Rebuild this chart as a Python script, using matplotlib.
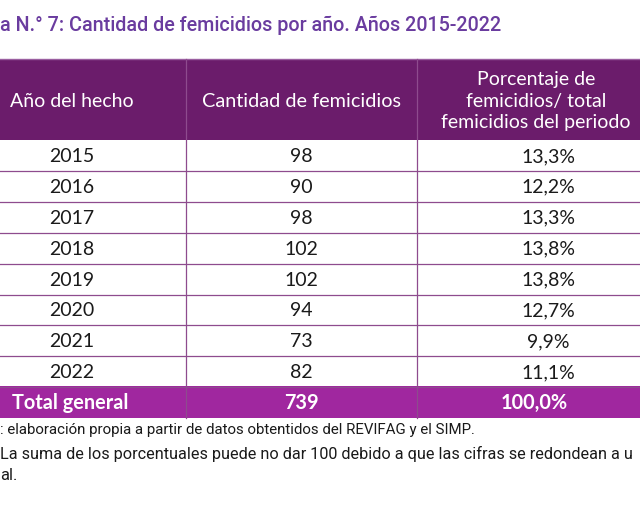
import matplotlib
matplotlib.use("Agg")
import matplotlib.pyplot as plt
from matplotlib.patches import Rectangle

years = ["2015", "2016", "2017", "2018", "2019", "2020", "2021", "2022"]
counts = [98, 90, 98, 102, 102, 94, 73, 82]
percents = [13.3, 12.2, 13.3, 13.8, 13.8, 12.7, 9.9, 11.1]
total_label = "Total general"
total_count = 739
total_percent = 100.0
headers = ["Año del hecho", "Cantidad de femicidios",
           "Porcentaje de\nfemicidios/ total\nfemicidios del periodo"]
title = "a N.° 7: Cantidad de femicidios por año. Años 2015-2022"
note1 = ": elaboración propia a partir de datos obtentidos del REVIFAG y el SIMP."
note2 = "La suma de los porcentuales puede no dar 100 debido a que las cifras se redondean a u"
note3 = "al."

def fmt_pct(v):
    return f"{v:.1f}%".replace(".", ",")

W, H = 640, 506
fig = plt.figure(figsize=(W / 100, H / 100), dpi=100)
ax = fig.add_axes([0, 0, 1, 1])
ax.set_xlim(0, W)
ax.set_ylim(H, 0)
ax.axis("off")

HEAD = "#6b1c6b"
TOT = "#a0279f"
LINE = "#8e4b8e"
TITLE_C = "#6a3c9f"
FONT = "Lato"

col_edges = [0, 186, 417, 640]
col_centers = [72, 301, 540]
head_top, head_bot = 60, 141
row_h = 30.9
tot_top, tot_bot = 387, 419

# title
ax.text(0, 25, title, fontsize=14.2, color=TITLE_C, family="Roboto",
        ha="left", va="center", fontweight="medium")

# header band
ax.add_patch(Rectangle((0, head_top), W, head_bot - head_top, color=HEAD, lw=0))
ax.plot([0, W], [head_top, head_top], color="#9a5fa0", lw=1)
for x in col_edges[1:3]:
    ax.plot([x, x], [head_top, tot_bot], color=LINE, lw=0.9, zorder=3)
ax.text(col_centers[0], 101, headers[0], color="white", fontsize=14,
        family=FONT, ha="center", va="center")
ax.text(col_centers[1], 101, headers[1], color="white", fontsize=14.3,
        family=FONT, ha="center", va="center")
ax.text(col_centers[2] - 4, 101, headers[2], color="white", fontsize=14,
        family=FONT, ha="center", va="center", linespacing=1.3)

# body rows
for i, (y, c, p) in enumerate(zip(years, counts, percents)):
    top = head_bot + i * row_h
    cy = top + row_h / 2
    ax.plot([0, W], [top + row_h, top + row_h], color=LINE, lw=0.9)
    ax.text(col_centers[0], cy, y, fontsize=14, family=FONT,
            ha="center", va="center", color="#1a1a1a")
    ax.text(col_centers[1], cy, str(c), fontsize=14, family=FONT,
            ha="center", va="center", color="#1a1a1a")
    ax.text(col_centers[2] + 8, cy, fmt_pct(p), fontsize=14, family=FONT,
            ha="center", va="center", color="#1a1a1a")

# total row
ax.add_patch(Rectangle((0, tot_top), W, tot_bot - tot_top, color=TOT, lw=0, zorder=1))
tcy = (tot_top + tot_bot) / 2
ax.text(12, tcy, total_label, fontsize=14.3, family=FONT, color="white",
        ha="left", va="center", fontweight="bold", zorder=4)
ax.text(col_centers[1], tcy, str(total_count), fontsize=14.3, family=FONT,
        color="white", ha="center", va="center", fontweight="bold", zorder=4)
ax.text(534, tcy, fmt_pct(total_percent), fontsize=14.3, family=FONT,
        color="white", ha="center", va="center", fontweight="bold", zorder=4)

# notes
ax.text(0, 430, note1, fontsize=10.8, family="Roboto", color="#1a1a1a",
        ha="left", va="center")
ax.text(0, 454, note2, fontsize=11.7, family="Roboto", color="#1a1a1a",
        ha="left", va="center")
ax.text(0, 476, note3, fontsize=11.9, family="Roboto", color="#1a1a1a",
        ha="left", va="center")

fig.savefig("out.png", dpi=100)
